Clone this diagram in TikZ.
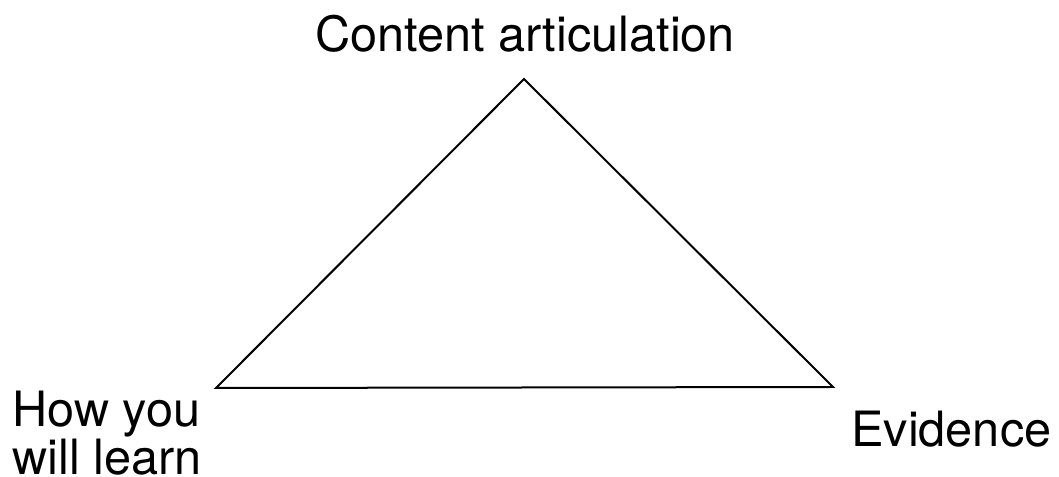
\documentclass[tikz,border=0pt]{standalone}
\usepackage{fontspec}
\setmainfont{TeX Gyre Heros}
\tikzset{lbl/.style={inner sep=0pt,font=\fontsize{36.5}{36}\selectfont},edge/.style={line width=1.5pt,line join=miter}}

\begin{document}
\begin{tikzpicture}[x=0.75pt,y=0.75pt]
\useasboundingbox(0,0)rectangle(1059,477);
\coordinate(top)at(524,398);\coordinate(left)at(216,89);\coordinate(right)at(833,90);
\draw[edge](top)--(right)--(left)--cycle;
\node[lbl,anchor=base](content)at(525,425){Content articulation};
\node[lbl,anchor=north west,align=left,text depth=0pt](how)at(12,86){How you\\will learn};
\node[lbl,anchor=base west](evid)at(851,30){Evidence};
\end{tikzpicture}
\end{document}
